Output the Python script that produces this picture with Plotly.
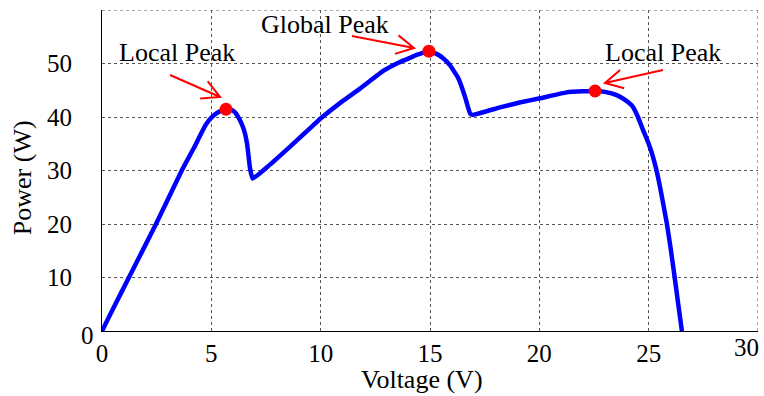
import math
import plotly.graph_objects as go

# P-V characteristic of a partially shaded PV string
voltage = [0.0, 0.5, 1.23, 2.47, 3.66, 4.2, 4.75, 5.08, 5.35, 5.67, 5.9, 6.08, 6.31, 6.5, 6.63,
           6.77, 6.89, 7.68, 8.5, 9.3, 10.05, 10.88, 11.8, 12.86, 13.48, 14.0, 14.39, 14.95,
           15.3, 15.6, 15.91, 16.3, 16.6, 16.83, 16.95, 18.2, 19.1, 20.03, 21.25, 22.0, 22.55,
           23.0, 23.54, 23.92, 24.28, 24.51, 24.74, 25.0, 25.2, 25.4, 25.6, 25.83, 26.0, 26.18,
           26.35, 26.52]
power = [0.0, 4.1, 10.0, 20.0, 30.1, 34.2, 38.6, 40.2, 41.0, 41.45, 41.4, 40.9, 39.4, 37.5, 35.1,
         30.4, 28.5, 31.1, 34.1, 37.1, 39.9, 42.6, 45.3, 48.6, 50.0, 50.9, 51.6, 52.3,
         51.8, 51.0, 49.7, 47.2, 43.8, 40.7, 40.4, 41.8, 42.7, 43.5, 44.6, 44.8, 44.86,
         44.7, 44.1, 43.2, 41.9, 40.0, 37.6, 35.0, 32.5, 29.3, 25.2, 20.1, 15.6, 10.3,
         5.1, 0.0]

# Maximum power points (local, global, local)
peak_v = [5.67, 14.95, 22.55]
peak_p = [41.45, 52.3, 44.86]
peak_labels = ["Local Peak", "Global Peak", "Local Peak"]

x_ticks = [0, 5, 10, 15, 20, 25, 30]
y_ticks = [0, 10, 20, 30, 40, 50, 60]

FONT = "Liberation Serif"
W, H = 764, 396
ML, MR, MT, MB = 102, 6, 10, 65
XR, YR = (0, 30), (0, 60)
PW, PH = W - ML - MR, H - MT - MB
GRID = dict(color="#555555", width=1, dash="dot")
TXT = dict(family=FONT, size=26, color="black")
TICK = dict(family=FONT, size=25, color="black")


def to_px(v, p):
    return (ML + (v - XR[0]) / (XR[1] - XR[0]) * PW,
            MT + (1 - (p - YR[0]) / (YR[1] - YR[0])) * PH)


def to_data(px, py):
    return (XR[0] + (px - ML) / PW * (XR[1] - XR[0]),
            YR[0] + (1 - (py - MT) / PH) * (YR[1] - YR[0]))


# label text centre, arrow tail and arrow head (data units)
label_pos = [(3.45, 52.1), (10.22, 57.2), (25.65, 52.0)]
arrow_tail = [(3.11, 47.85), (11.43, 55.14), (25.65, 48.79)]
arrow_head = [(5.40, 43.74), (14.27, 52.90), (23.00, 46.36)]

fig = go.Figure()
fig.add_trace(go.Scatter(x=voltage, y=power, mode="lines",
                         line=dict(color="#0000ff", width=4.5, shape="spline", smoothing=0.4),
                         hoverinfo="skip"))
fig.add_trace(go.Scatter(x=peak_v, y=peak_p, mode="markers",
                         marker=dict(color="#ff0000", size=13), cliponaxis=False))

# grid lines along the top and right edges of the plot box
shapes = [
    dict(type="line", xref="x", yref="y", x0=XR[0], x1=XR[1], y0=YR[1], y1=YR[1], line=GRID, layer="below"),
    dict(type="line", xref="x", yref="y", x0=XR[1], x1=XR[1], y0=YR[0], y1=YR[1], line=GRID, layer="below"),
]
annotations = []
for (lx, ly), (tx, ty), (hx, hy), text in zip(label_pos, arrow_tail, arrow_head, peak_labels):
    annotations.append(dict(x=lx, y=ly, xref="x", yref="y", text=text, showarrow=False,
                            xanchor="center", yanchor="middle", font=TXT))
    tpx, tpy = to_px(tx, ty)
    hpx, hpy = to_px(hx, hy)
    ang = math.atan2(tpy - hpy, tpx - hpx)
    wings = []
    for d in (-0.49, 0.49):
        wx = hpx + 20 * math.cos(ang + d)
        wy = hpy + 20 * math.sin(ang + d)
        wings.append(to_data(wx, wy))
    path = (f"M{tx},{ty} L{hx},{hy} "
            f"M{wings[0][0]},{wings[0][1]} L{hx},{hy} L{wings[1][0]},{wings[1][1]}")
    shapes.append(dict(type="path", path=path, xref="x", yref="y",
                       line=dict(color="#ff0000", width=2)))

# axis titles, origin label of the power axis and the last voltage label
annotations.append(dict(x=0.488, y=-0.152, xref="paper", yref="paper", text="Voltage (V)",
                        showarrow=False, xanchor="center", yanchor="middle", font=TXT))
annotations.append(dict(x=-0.120, y=0.477, xref="paper", yref="paper", text="Power (W)",
                        showarrow=False, textangle=-90, xanchor="center", yanchor="middle", font=TXT))
annotations.append(dict(x=(87 - ML) / PW, y=(MT + PH - 335) / PH, xref="paper", yref="paper",
                        text=str(y_ticks[0]), showarrow=False, xanchor="center", yanchor="middle",
                        font=TICK))
annotations.append(dict(x=(761 - ML) / PW, y=(MT + PH - 348) / PH, xref="paper", yref="paper",
                        text=str(x_ticks[-1]), showarrow=False, xanchor="right", yanchor="middle",
                        font=TICK))

axis_common = dict(showline=True, linecolor="black", linewidth=1, mirror=False,
                   showgrid=True, gridcolor=GRID["color"], griddash="dot", gridwidth=1,
                   zeroline=False, ticks="", tickfont=TICK)

fig.update_layout(
    width=W, height=H, autosize=False,
    margin=dict(l=ML, r=MR, t=MT, b=MB),
    paper_bgcolor="white", plot_bgcolor="white",
    font=dict(family=FONT),
    showlegend=False,
    shapes=shapes, annotations=annotations,
    xaxis=dict(range=list(XR), tickvals=x_ticks[:-1], ticktext=[str(v) for v in x_ticks[:-1]],
               ticklabelstandoff=0, **axis_common),
    yaxis=dict(range=list(YR), tickvals=y_ticks[1:], ticktext=[str(v) for v in y_ticks[1:]],
               ticklabelstandoff=24, **axis_common),
)

fig.write_html("out.html")
